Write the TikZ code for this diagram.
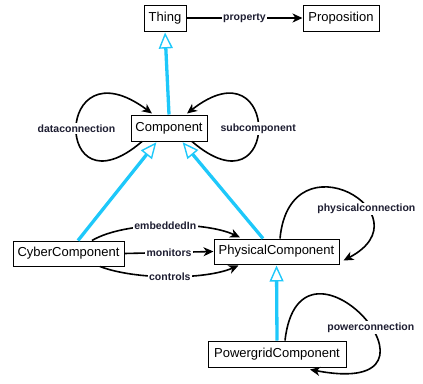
\documentclass[tikz,border=0pt]{standalone}
\usepackage{fontspec}
\setmainfont{Liberation Sans}
\usetikzlibrary{arrows.meta,calc}
\definecolor{inh}{RGB}{30,200,250}
\definecolor{lbl}{RGB}{30,30,50}
\begin{document}
\begin{tikzpicture}[x=1pt,y=-1pt,
  cls/.style={draw=black, line width=1pt, fill=white, minimum height=26pt, inner sep=0pt, font=\fontsize{13}{15}\selectfont},
  isa/.style={draw=inh, line width=3.3pt, -{Triangle[fill=white, length=16pt, width=14pt, line width=1.4pt]}, shorten >=1pt},
  rel/.style={draw=black, line width=1.6pt, -{Stealth[length=10pt, width=9pt, inset=3pt]}},
  lab/.style={fill=white, text=lbl, inner sep=1.5pt, font=\bfseries\fontsize{10.5}{12}\selectfont}]
\useasboundingbox (0,0) rectangle (423,383);

\node[cls, minimum width=42pt] (Thing) at (165,18) {Thing};
\node[cls, minimum width=76pt] (Proposition) at (341,18) {Proposition};
\node[cls, minimum width=76pt] (Component) at (169,128) {Component};
\node[cls, minimum width=111pt, minimum height=25pt] (Cyber) at (68.5,253.5) {CyberComponent};
\node[cls, minimum width=125pt, minimum height=25pt] (Physical) at (276.5,251.5) {PhysicalComponent};
\node[cls, minimum width=138pt] (Powergrid) at (277,354) {PowergridComponent};

% inheritance
\draw[isa] (Component.north) -- (Thing.south);
\draw[isa] ($(Cyber.north)+(9.5,0)$) -- ($(Component.south)+(-12,0)$);
\draw[isa] ($(Physical.north)+(-13.5,0)$) -- ($(Component.south)+(13,0)$);
\draw[isa] (Powergrid.north) -- (Physical.south);

% relations
\draw[rel] (Thing.east) -- node[lab] {property} (Proposition.west);

\draw[rel] ($(Component.south)+(-27,0)$) .. controls (53,218) and (53,40) .. node[lab, pos=0.5] {dataconnection} ($(Component.north)+(-17,-1)$);
\draw[rel] ($(Component.south)+(23,0)$) .. controls (281,218) and (281,40) .. node[lab, pos=0.5] {subcomponent} ($(Component.north)+(18,-1)$);

\draw[rel] ($(Physical.north)+(3.5,0)$) .. controls (290,133) and (430,215) .. node[lab, pos=0.65] {physicalconnection} ($(Physical.south east)+(4,-4)$);
\draw[rel] ($(Powergrid.north)+(8,0)$) .. controls (300,209) and (470,400) .. node[lab, pos=0.56] {powerconnection} ($(Powergrid.south)+(33,2)$);

\draw[rel] ($(Cyber.north)+(23.5,0)$) .. controls (125,221) and (205,221) .. node[lab] {embeddedIn} ($(Physical.north)+(-36.5,-1)$);
\draw[rel] (Cyber.east) -- node[lab] {monitors} (Physical.west);
\draw[rel] ($(Cyber.south)+(31.5,0)$) .. controls (135,280) and (205,280) .. node[lab] {controls} ($(Physical.south)+(-38,1)$);
\end{tikzpicture}
\end{document}
